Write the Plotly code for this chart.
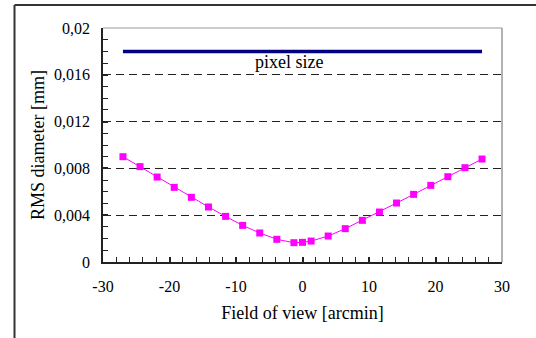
import plotly.graph_objects as go

fov = [-27.0, -24.43, -21.86, -19.29, -16.71, -14.14, -11.57, -9.0, -6.43, -3.86, -1.29, 0.0,
       1.29, 3.86, 6.43, 9.0, 11.57, 14.14, 16.71, 19.29, 21.86, 24.43, 27.0]
rms = [0.0090, 0.00815, 0.00726, 0.00638, 0.00553, 0.00470, 0.00390, 0.00313, 0.00248, 0.00194,
       0.00165, 0.00168, 0.00179, 0.00222, 0.00285, 0.00356, 0.00427, 0.00504, 0.00578, 0.00655,
       0.00729, 0.00806, 0.00880]
pixel_x = [-27.0, 27.0]
pixel_y = [0.018, 0.018]
pixel_label = "pixel size"
x_tick_vals = [-30, -20, -10, 0, 10, 20, 30]
x_tick_text = ["-30", "-20", "-10", "0", "10", "20", "30"]

W, H = 536, 338
L, R, T, B = 103, 34, 28, 76
pw, ph = W - L - R, H - T - B

def px(x):
    return (x - L) / pw

def py(y):
    return (H - B - y) / ph

font = "Liberation Serif"

fig = go.Figure()
fig.add_trace(go.Scatter(x=pixel_x, y=pixel_y, mode="lines",
                         line=dict(color="#000080", width=3.5), showlegend=False))
fig.add_trace(go.Scatter(x=fov, y=rms, mode="lines+markers",
                         line=dict(color="#FF00FF", width=1),
                         marker=dict(symbol="square", size=7, color="#FF00FF"),
                         showlegend=False))

fig.add_annotation(x=-2.0, y=0.0171, text=pixel_label, showarrow=False,
                   xanchor="center", yanchor="middle",
                   font=dict(family=font, size=18, color="black"))

fig.update_layout(
    width=W, height=H,
    margin=dict(l=L, r=R, t=T, b=B, pad=0),
    paper_bgcolor="white", plot_bgcolor="white",
    separators=", ",
    font=dict(family=font, size=16, color="black"),
    xaxis=dict(range=[-30, 30], tickvals=x_tick_vals, ticktext=x_tick_text,
               showgrid=False, zeroline=False,
               showline=True, linecolor="#222", linewidth=1.5, mirror=False,
               ticks="inside", ticklen=5, tickcolor="#222", tickwidth=1.5,
               ticklabelstandoff=9,
               minor=dict(dtick=2, tick0=0, ticks="inside", ticklen=5, tickcolor="#222", tickwidth=1),
               title=dict(text="Field of view [arcmin]", font=dict(family=font, size=18), standoff=12),
               tickfont=dict(family=font, size=16)),
    yaxis=dict(range=[0, 0.02], dtick=0.004, tick0=0, showgrid=True,
               gridcolor="#222", griddash="8px,5px", gridwidth=1, zeroline=False,
               showline=True, linecolor="#222", linewidth=1.5,
               ticks="inside", ticklen=5, tickcolor="#222", tickwidth=1.5,
               ticklabelstandoff=8,
               minor=dict(dtick=0.001, ticks="inside", ticklen=5, tickcolor="#222", tickwidth=1,
                          showgrid=False),
               title=dict(text="RMS diameter [mm]", font=dict(family=font, size=18), standoff=5),
               tickfont=dict(family=font, size=16)),
    shapes=[
        dict(type="line", xref="paper", yref="paper", x0=1, x1=1, y0=0, y1=1,
             line=dict(color="#999", width=1.5)),
        dict(type="line", xref="paper", yref="paper", x0=0, x1=1, y0=1, y1=1,
             line=dict(color="#bbb", width=1.5), layer="below"),
        dict(type="line", xref="paper", yref="paper", x0=px(14.5), x1=px(540), y0=py(5), y1=py(5),
             line=dict(color="#333", width=2)),
        dict(type="line", xref="paper", yref="paper", x0=px(14.5), x1=px(14.5), y0=py(5), y1=py(345),
             line=dict(color="#333", width=2)),
    ],
)

fig.write_html("out.html")
